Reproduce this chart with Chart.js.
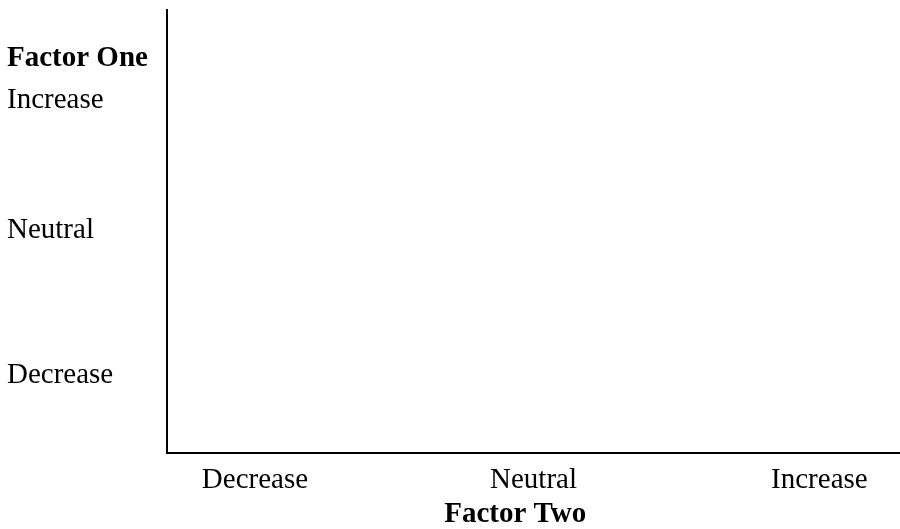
<!DOCTYPE html>
<html>
<head>
<meta charset="utf-8">
<script src="https://cdn.jsdelivr.net/npm/chart.js@4"></script>
<style>
  html, body { margin: 0; padding: 0; background: #fff; }
  #wrap { width: 900px; height: 529px; }
</style>
</head>
<body>
<div id="wrap"><canvas id="factors"></canvas></div>
<script>
// tick labels and where they sit on a 0-10 scale
const xLabels = ['Decrease', 'Neutral', 'Increase']
const xTickValues = [1.2, 5.0, 8.9]
const yLabels = ['Decrease', 'Neutral', 'Increase', 'Factor One']
const yTickValues = [1.75, 5.03, 7.95, 8.9]
const xTitle = 'Factor Two'
const xTitleValue = 4.75
// nothing plotted yet, the grid is empty
const points = []

const serif = '"Liberation Serif", "Times New Roman", serif'

// x title sits a bit left of centre, so draw it ourselves
const xTitlePlugin = {
  id: 'xTitle',
  afterDraw(chart) {
    const ctx = chart.ctx
    const xs = chart.scales.x
    ctx.save()
    ctx.font = 'bold 29px ' + serif
    ctx.fillStyle = '#000'
    ctx.textAlign = 'center'
    ctx.textBaseline = 'middle'
    ctx.fillText(xTitle, xs.getPixelForValue(xTitleValue), chart.height - 14)
    ctx.restore()
  }
}

const config = {
  type: 'scatter',
  data: {
    datasets: [{
      label: 'Factors',
      data: points,
      backgroundColor: '#000'
    }]
  },
  options: {
    responsive: true,
    maintainAspectRatio: false,
    animation: false,
    layout: { padding: { left: 7, top: 10, right: 0, bottom: 21 } },
    plugins: {
      legend: { display: false },
      tooltip: { enabled: false }
    },
    scales: {
      x: {
        type: 'linear',
        min: 0,
        max: 10,
        grid: { display: false, drawTicks: false },
        border: { display: true, color: '#000', width: 2 },
        afterBuildTicks: (scale) => {
          scale.ticks = xTickValues.map(v => ({ value: v }))
        },
        afterFit: (scale) => {
          scale.paddingLeft = 0
          scale.paddingRight = 0
        },
        ticks: {
          autoSkip: false,
          maxRotation: 0,
          padding: 10,
          color: '#000',
          font: { family: serif, size: 29 },
          callback: (value, i) => xLabels[i]
        }
      },
      y: {
        type: 'linear',
        min: 0,
        max: 10,
        grid: { display: false, drawTicks: false },
        border: { display: true, color: '#000', width: 2 },
        afterBuildTicks: (scale) => {
          scale.ticks = yTickValues.map(v => ({ value: v }))
        },
        afterFit: (scale) => {
          scale.width = 160
          scale.paddingTop = 0
          scale.paddingBottom = 0
        },
        ticks: {
          autoSkip: false,
          crossAlign: 'far',
          padding: 10,
          color: '#000',
          font: (c) => ({
            family: serif,
            size: 29,
            weight: c.index === yLabels.length - 1 ? 'bold' : 'normal'
          }),
          callback: (value, i) => yLabels[i]
        }
      }
    }
  },
  plugins: [xTitlePlugin]
}

const factorChart = new Chart(document.getElementById('factors'), config)
</script>
</body>
</html>
